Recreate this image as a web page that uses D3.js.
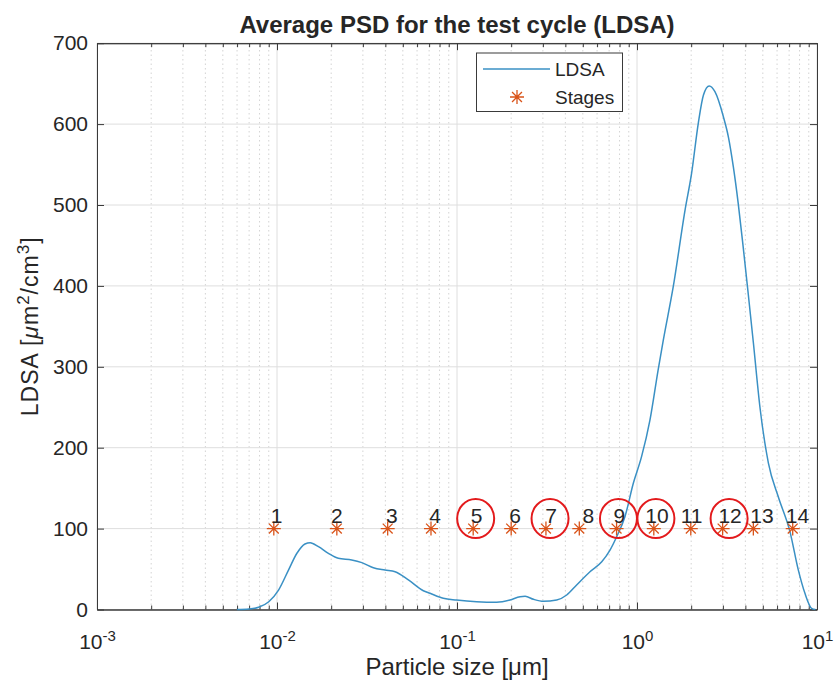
<!DOCTYPE html>
<html>
<head>
<meta charset="utf-8">
<script src="https://cdn.jsdelivr.net/npm/d3@7"></script>
<style>
  body { margin: 0; background: #fff; }
  svg { display: block; }
  text { font-family: "Liberation Sans", Arial, Helvetica, sans-serif; fill: #262626; }
</style>
</head>
<body>
<svg id="chart" width="835" height="689"></svg>
<script>
// Averaged lung-deposited surface area spectrum over particle size
const psdSizes = [0.0060, 0.0070, 0.0079, 0.0090, 0.0102, 0.0116, 0.0129, 0.0143, 0.0153, 0.0170,
  0.0193, 0.0219, 0.0260, 0.0296, 0.0343, 0.0398, 0.0453, 0.0537, 0.0650, 0.0708,
  0.0839, 0.0995, 0.1286, 0.166, 0.197, 0.224, 0.239, 0.266, 0.302, 0.358,
  0.407, 0.462, 0.548, 0.637, 0.708, 0.771, 0.857, 0.954, 1.06, 1.18,
  1.31, 1.40, 1.59, 1.85, 2.01, 2.19, 2.34, 2.52, 2.71, 3.02,
  3.22, 3.43, 3.65, 3.89, 4.15, 4.43, 4.82, 5.37, 6.10, 7.08,
  7.87, 8.57, 9.33, 9.80];
const psdLdsa = [0, 0.6, 2.7, 9.6, 24, 49, 69.5, 81, 82.6, 77.6,
  69.5, 63.3, 61.2, 57.9, 51.7, 48.8, 46.7, 36.5, 23.2, 20,
  13.8, 11.7, 9.6, 8.9, 11.7, 15.8, 16.3, 12.6, 10.1, 11.7,
  17.9, 30.3, 46.7, 59.1, 73.5, 90, 114.7, 156, 188.9, 234,
  296, 333, 399, 494, 539, 601, 636, 647, 640, 609,
  584, 547, 502, 448, 390, 330, 250, 181, 139, 96,
  49, 20, 1.5, 0];

// Impactor stages (midpoint diameters, µm) and where their numbers sit
const stageNumbers = [1, 2, 3, 4, 5, 6, 7, 8, 9, 10, 11, 12, 13, 14];
const stageSizes = [0.0096, 0.0215, 0.0412, 0.0717, 0.123, 0.200, 0.312, 0.478, 0.770, 1.24, 1.99, 2.99, 4.43, 7.33];
const stageLevel = 100;
const stageLabelSizes = [0.00996, 0.0215, 0.0434, 0.0755, 0.1286, 0.210, 0.333, 0.536, 0.799, 1.29, 2.01, 3.29, 4.95, 7.79];
const circledStages = [5, 7, 9, 10, 12];

// Axis ticks
const yTicks = [0, 100, 200, 300, 400, 500, 600, 700];
const xTickExponents = [-3, -2, -1, 0, 1];

const svg = d3.select("#chart");
const W = 835, H = 689;
const margin = { left: 97, right: 18, top: 43.2, bottom: 79.5 };
const x = d3.scaleLog().domain([1e-3, 10]).range([margin.left, W - margin.right]);
const y = d3.scaleLinear().domain([0, 700]).range([H - margin.bottom, margin.top]);

const xMajor = xTickExponents.map(e => Math.pow(10, e));
const xMinor = [];
xTickExponents.slice(0, -1).forEach(e => {
  for (let k = 2; k <= 9; k++) xMinor.push(k * Math.pow(10, e));
});

// Grid
const grid = svg.append("g");
grid.selectAll("line.minor").data(xMinor).join("line")
  .attr("x1", d => x(d)).attr("x2", d => x(d))
  .attr("y1", y(0)).attr("y2", y(700))
  .attr("stroke", "#c8c8c8").attr("stroke-width", 0.8).attr("stroke-dasharray", "1.5,3");
grid.selectAll("line.vmajor").data(xMajor).join("line")
  .attr("x1", d => x(d)).attr("x2", d => x(d))
  .attr("y1", y(0)).attr("y2", y(700))
  .attr("stroke", "#dedede").attr("stroke-width", 1);
grid.selectAll("line.hmajor").data(yTicks).join("line")
  .attr("x1", x(1e-3)).attr("x2", x(10))
  .attr("y1", d => y(d)).attr("y2", d => y(d))
  .attr("stroke", "#dedede").attr("stroke-width", 1);

// Axes (ticks point inward, box all round)
const axisColor = "#3a3a3a";
function styleAxis(g) {
  g.selectAll("path.domain").attr("stroke", axisColor).attr("stroke-width", 1);
  g.selectAll(".tick line").attr("stroke", axisColor).attr("stroke-width", 1);
}
const bottom = svg.append("g").attr("transform", `translate(0,${y(0)})`)
  .call(d3.axisBottom(x).tickValues(xMajor).tickSize(-7).tickSizeOuter(0).tickPadding(25))
  .call(styleAxis);
bottom.selectAll(".tick text")
  .attr("font-size", 21).attr("fill", "#262626")
  .text("10")
  .append("tspan").attr("dy", "-0.55em").attr("font-size", 15)
  .text((d, i) => String(xTickExponents[i]));
svg.append("g").attr("transform", `translate(0,${y(0)})`)
  .call(d3.axisBottom(x).tickValues(xMinor).tickSize(-4).tickSizeOuter(0).tickFormat(""))
  .call(styleAxis);
svg.append("g").attr("transform", `translate(0,${y(700)})`)
  .call(d3.axisTop(x).tickValues(xMajor).tickSize(-7).tickSizeOuter(0).tickFormat(""))
  .call(styleAxis);
svg.append("g").attr("transform", `translate(0,${y(700)})`)
  .call(d3.axisTop(x).tickValues(xMinor).tickSize(-4).tickSizeOuter(0).tickFormat(""))
  .call(styleAxis);
const left = svg.append("g").attr("transform", `translate(${x(1e-3)},0)`)
  .call(d3.axisLeft(y).tickValues(yTicks).tickSize(-7).tickSizeOuter(0).tickPadding(9))
  .call(styleAxis);
left.selectAll(".tick text").attr("font-size", 21).attr("fill", "#262626");
svg.append("g").attr("transform", `translate(${x(10)},0)`)
  .call(d3.axisRight(y).tickValues(yTicks).tickSize(-7).tickSizeOuter(0).tickFormat(""))
  .call(styleAxis);

// LDSA curve
const lineColor = "#3a90c4";
const curvePts = psdSizes.map((s, i) => [s, psdLdsa[i]]);
svg.append("path").datum(curvePts)
  .attr("fill", "none").attr("stroke", lineColor).attr("stroke-width", 1.5)
  .attr("d", d3.line().x(d => x(d[0])).y(d => y(d[1])).curve(d3.curveMonotoneX));

// Asterisk marker
const starColor = "#D95319";
function asterisk(r) {
  const a = r * Math.SQRT1_2;
  return `M${-r},0L${r},0M0,${-r}L0,${r}M${-a},${-a}L${a},${a}M${-a},${a}L${a},${-a}`;
}
svg.append("g").selectAll("path").data(stageSizes).join("path")
  .attr("transform", d => `translate(${x(d)},${y(stageLevel)})`)
  .attr("d", asterisk(7))
  .attr("fill", "none").attr("stroke", starColor).attr("stroke-width", 1.3);

// Stage numbers
svg.append("g").selectAll("text").data(stageNumbers).join("text")
  .attr("x", (d, i) => x(stageLabelSizes[i]))
  .attr("y", y(stageLevel))
  .attr("dy", -6)
  .attr("text-anchor", "middle")
  .attr("font-size", 21)
  .attr("fill", "#1a1a1a")
  .text(d => d);

// Highlighted stages
svg.append("g").selectAll("ellipse").data(circledStages).join("ellipse")
  .attr("cx", d => x(stageLabelSizes[d - 1]) - 1)
  .attr("cy", y(stageLevel) - 10)
  .attr("rx", 18.5).attr("ry", 19.5)
  .attr("fill", "none").attr("stroke", "#e31a1c").attr("stroke-width", 2);

// Title and axis labels
const cx = (x(1e-3) + x(10)) / 2;
svg.append("text").attr("x", cx).attr("y", 33)
  .attr("text-anchor", "middle").attr("font-size", 24).attr("font-weight", "bold")
  .attr("fill", "#000")
  .text("Average PSD for the test cycle (LDSA)");

svg.append("text").attr("x", cx).attr("y", 675)
  .attr("text-anchor", "middle").attr("font-size", 24)
  .text("Particle size [μm]");

const yl = svg.append("text")
  .attr("transform", `translate(38,${(y(0) + y(700)) / 2}) rotate(-90)`)
  .attr("text-anchor", "middle").attr("font-size", 23).attr("letter-spacing", 1);
yl.append("tspan").text("LDSA [");
yl.append("tspan").attr("font-style", "italic").text("μ");
yl.append("tspan").text("m");
yl.append("tspan").attr("dy", -9).attr("font-size", 17).text("2");
yl.append("tspan").attr("dy", 9).text("/cm");
yl.append("tspan").attr("dy", -9).attr("font-size", 17).text("3");
yl.append("tspan").attr("dy", 9).text("]");

// Legend
const lg = svg.append("g");
lg.append("rect").attr("x", 476.5).attr("y", 53).attr("width", 146).attr("height", 58.5)
  .attr("fill", "#fff").attr("stroke", "#3a3a3a").attr("stroke-width", 1);
lg.append("line").attr("x1", 483).attr("x2", 550).attr("y1", 69).attr("y2", 69)
  .attr("stroke", lineColor).attr("stroke-width", 1.5);
lg.append("text").attr("x", 555).attr("y", 69).attr("dy", "0.35em").attr("font-size", 19).text("LDSA");
lg.append("path").attr("transform", "translate(517,97)").attr("d", asterisk(7))
  .attr("fill", "none").attr("stroke", starColor).attr("stroke-width", 1.3);
lg.append("text").attr("x", 555).attr("y", 97).attr("dy", "0.35em").attr("font-size", 19).text("Stages");
</script>
</body>
</html>
